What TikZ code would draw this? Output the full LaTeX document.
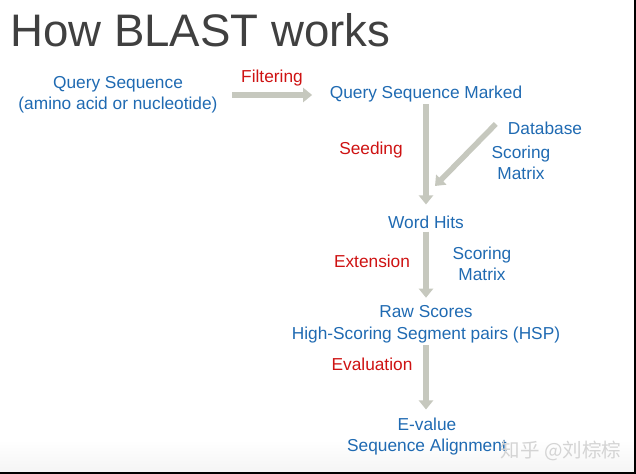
\documentclass[tikz,border=0pt]{standalone}
\usepackage{fontspec}
\setmainfont{Liberation Sans}
\newfontfamily\cjkfont{Noto Sans CJK SC}
\usepackage{xcolor}
\usetikzlibrary{arrows.meta,positioning,calc}
\definecolor{stepblue}{RGB}{31,106,178}
\definecolor{stepred}{RGB}{206,18,18}
\definecolor{titlegray}{RGB}{64,64,64}
\definecolor{arrowgray}{RGB}{198,200,190}
\definecolor{marklight}{RGB}{212,212,212}

\begin{document}
\begin{tikzpicture}[x=1bp,y=-1bp,>={Triangle[width=14bp,length=9bp]},
  every node/.style={font=\fontsize{17.3bp}{21.5bp}\selectfont,text=stepblue,align=center,inner sep=2bp},
  op/.style={text=stepred},
  blk/.style={->,draw=arrowgray,line width=5.5bp}]
\useasboundingbox (0,0) rectangle (636,474);
\shade[top color=white,bottom color=black!4] (0,440) rectangle (636,471.5);
\fill[black] (634,0) rectangle (636,474);
\fill[black] (0,471.5) rectangle (636,474);
\node[anchor=base west,font=\fontsize{45.6bp}{50bp}\selectfont,text=titlegray] (title) at (8,46.5) {How BLAST works};
\node (qs) at (118,95) {Query Sequence\\(amino acid or nucleotide)};
\node (qsm) at (426,94) {Query Sequence Marked};
\node (db) at (545,128) {Database};
\node (sm1) at (521,163) {Scoring\\Matrix};
\node (wh) at (426,222) {Word Hits};
\node (sm2) at (482,264) {Scoring\\Matrix};
\node (rs) at (426,324.5) {Raw Scores\\High-Scoring Segment pairs (HSP)};
\node (ev) at (427,436.5) {E-value\\Sequence Alignment};
\node[op] (filt) at (272,78) {Filtering};
\node[op] (seed) at (371,150) {Seeding};
\node[op] (ext) at (372,261) {Extension};
\node[op] (eval) at (372,364) {Evaluation};
\coordinate (seedin) at (435,186);
\draw[blk,shorten <=12.5bp,shorten >=15.5bp] (qs.east) -- (qs.east -| qsm.west);
\draw[blk,shorten >=9bp] (qsm.south) -- (wh.north);
\draw[blk] ([shift={(-10,-4)}]db.west) -- (seedin);
\draw[blk,shorten <=1bp,shorten >=6bp] (wh.south) -- (rs.north);
\draw[blk,shorten >=6bp] (rs.south) -- (rs.south |- ev.north);
\node[font=\cjkfont\fontsize{19.5bp}{19.5bp}\selectfont,text=marklight] (mark) at (561,451) {知乎 @刘棕棕};
\end{tikzpicture}
\end{document}
